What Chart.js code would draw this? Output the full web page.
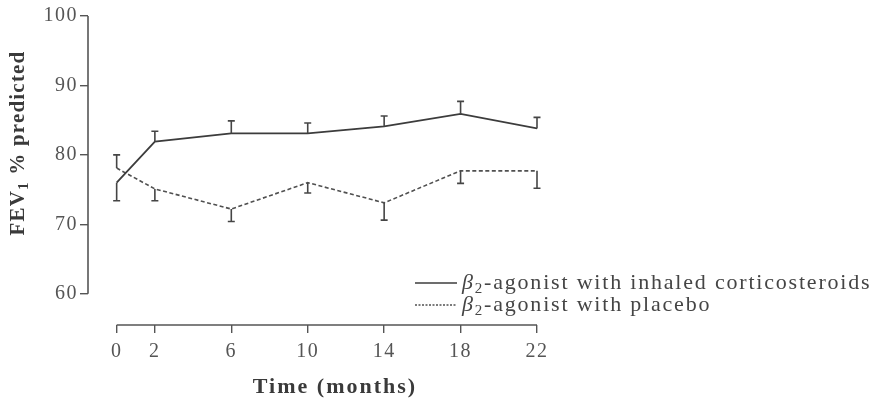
<!DOCTYPE html>
<html>
<head>
<meta charset="utf-8">
<script src="https://cdn.jsdelivr.net/npm/chart.js@4.4.1/dist/chart.umd.min.js"></script>
<style>
html,body{margin:0;padding:0;background:#fff;}
#wrap{width:879px;height:402px;position:relative;}
</style>
</head>
<body>
<div id="wrap"><canvas id="c" width="879" height="402"></canvas></div>
<script>
const months = [0, 2, 6, 10, 14, 18, 22];
const xTickLabels = ['0', '2', '6', '10', '14', '18', '22'];
const yTickValues = [60, 70, 80, 90, 100];
const steroidMean = [76.0, 81.9, 83.1, 83.1, 84.1, 85.9, 83.8];
const steroidErr = [-2.6, 1.5, 1.8, 1.5, 1.5, 1.8, 1.6];   // signed: + up, - down
const placeboMean = [78.1, 75.1, 72.2, 76.0, 73.1, 77.7, 77.7];
const placeboErr = [1.9, -1.7, -1.8, -1.5, -2.5, -1.8, -2.5];
const seriesLabels = ['-agonist with inhaled corticosteroids', '-agonist with placebo'];
const xTitle = 'Time (months)';

const SERIF = '"Liberation Serif", "Times New Roman", serif';
const INK = '#454545';

const errorBars = {
  id: 'errorBars',
  afterDatasetsDraw(chart) {
    const ctx = chart.ctx, xs = chart.scales.x, ys = chart.scales.y;
    const sets = [[steroidMean, steroidErr], [placeboMean, placeboErr]];
    ctx.save();
    ctx.strokeStyle = INK;
    ctx.lineWidth = 1.6;
    sets.forEach(([m, e]) => {
      m.forEach((v, i) => {
        const px = xs.getPixelForValue(months[i]);
        const y0 = ys.getPixelForValue(v);
        const y1 = ys.getPixelForValue(v + e[i]);
        ctx.beginPath();
        ctx.moveTo(px, y0); ctx.lineTo(px, y1);
        ctx.moveTo(px - 3.5, y1); ctx.lineTo(px + 3.5, y1);
        ctx.stroke();
      });
    });
    ctx.restore();
  }
};

const axesAndText = {
  id: 'axesAndText',
  beforeDraw(chart) { chart.ctx.letterSpacing = '1.5px'; },
  afterDraw(chart) {
    const ctx = chart.ctx, xs = chart.scales.x, ys = chart.scales.y;
    ctx.save();
    ctx.letterSpacing = '0px';
    ctx.strokeStyle = '#555';
    ctx.lineWidth = 1.6;
    // y axis line (60..100)
    const ax = chart.chartArea.left;
    ctx.beginPath();
    ctx.moveTo(ax, ys.getPixelForValue(60));
    ctx.lineTo(ax, ys.getPixelForValue(100));
    ctx.stroke();
    // x axis line (0..22)
    const ay = chart.chartArea.bottom;
    ctx.beginPath();
    ctx.moveTo(xs.getPixelForValue(0), ay);
    ctx.lineTo(xs.getPixelForValue(22), ay);
    ctx.stroke();

    // axis titles
    ctx.fillStyle = '#3a3a3a';
    ctx.font = 'bold 22px ' + SERIF;
    ctx.letterSpacing = '2px';
    ctx.textAlign = 'center';
    ctx.textBaseline = 'middle';
    ctx.fillText(xTitle, 335, 387);

    // y title: FEV1 % predicted
    ctx.save();
    ctx.translate(17, 143);
    ctx.rotate(-Math.PI / 2);
    ctx.letterSpacing = '1.2px';
    ctx.textAlign = 'left';
    ctx.textBaseline = 'alphabetic';
    const p1 = 'FEV', p3 = ' % predicted';
    ctx.font = 'bold 21px ' + SERIF;
    const w1 = ctx.measureText(p1).width;
    ctx.font = 'bold 15px ' + SERIF;
    const w2 = ctx.measureText('1').width;
    ctx.font = 'bold 21px ' + SERIF;
    const w3 = ctx.measureText(p3).width;
    let x0 = -(w1 + w2 + w3) / 2;
    const base = 7;
    ctx.fillText(p1, x0, base);
    ctx.font = 'bold 15px ' + SERIF;
    ctx.fillText('1', x0 + w1, base + 4);
    ctx.font = 'bold 21px ' + SERIF;
    ctx.fillText(p3, x0 + w1 + w2, base);
    ctx.restore();

    // legend
    const rows = [283, 305];
    chart.data.datasets.forEach((ds, i) => {
      const y = rows[i];
      ctx.save();
      ctx.strokeStyle = ds.borderColor;
      ctx.lineWidth = i === 0 ? 1.6 : 1.3;
      ctx.setLineDash(i === 0 ? [] : [2, 1.5]);
      ctx.beginPath();
      ctx.moveTo(415, y); ctx.lineTo(457, y);
      ctx.stroke();
      ctx.restore();
      ctx.fillStyle = INK;
      ctx.textAlign = 'left';
      ctx.textBaseline = 'alphabetic';
      ctx.letterSpacing = '1.8px';
      let tx = 462;
      const bl = y + 6;
      ctx.font = 'italic 22px ' + SERIF;
      ctx.fillText('\u03B2', tx, bl);
      tx += ctx.measureText('\u03B2').width;
      ctx.font = '15px ' + SERIF;
      ctx.fillText('2', tx, bl + 4);
      tx += ctx.measureText('2').width;
      ctx.font = '22px ' + SERIF;
      ctx.fillText(seriesLabels[i], tx, bl);
    });
    ctx.restore();
  }
};

new Chart(document.getElementById('c'), {
  type: 'line',
  data: {
    datasets: [
      {
        label: '\u03B2\u2082' + seriesLabels[0],
        data: months.map((m, i) => ({ x: m, y: steroidMean[i] })),
        borderColor: '#3c3c3c',
        borderWidth: 1.8,
        pointRadius: 0,
        fill: false,
        tension: 0
      },
      {
        label: '\u03B2\u2082' + seriesLabels[1],
        data: months.map((m, i) => ({ x: m, y: placeboMean[i] })),
        borderColor: '#505050',
        borderWidth: 1.6,
        borderDash: [4, 2.5],
        pointRadius: 0,
        fill: false,
        tension: 0
      }
    ]
  },
  options: {
    responsive: false,
    animation: false,
    events: [],
    layout: { padding: { top: 16, right: 342, left: 0, bottom: 0 } },
    plugins: { legend: { display: false }, tooltip: { enabled: false } },
    scales: {
      x: {
        type: 'linear',
        min: -1.5, max: 22,
        afterBuildTicks(s) { s.ticks = months.map(v => ({ value: v })); },
        afterFit(s) { s.height = 77; },
        grid: { display: true, drawOnChartArea: false, drawTicks: true, tickLength: 8, color: '#555', lineWidth: 1.4 },
        border: { display: false },
        ticks: {
          font: { family: SERIF, size: 20 },
          color: '#555',
          padding: 7,
          maxRotation: 0,
          callback(v) { const i = months.indexOf(v); return i >= 0 ? xTickLabels[i] : ''; }
        }
      },
      y: {
        min: 55.5, max: 100,
        afterBuildTicks(s) { s.ticks = yTickValues.map(v => ({ value: v })); },
        afterFit(s) { s.width = 88; },
        grid: { display: true, drawOnChartArea: false, drawTicks: true, tickLength: 8, color: '#555', lineWidth: 1.4 },
        border: { display: false },
        ticks: {
          font: { family: SERIF, size: 20 },
          color: '#555',
          padding: 2
        }
      }
    }
  },
  plugins: [errorBars, axesAndText]
});
</script>
</body>
</html>
